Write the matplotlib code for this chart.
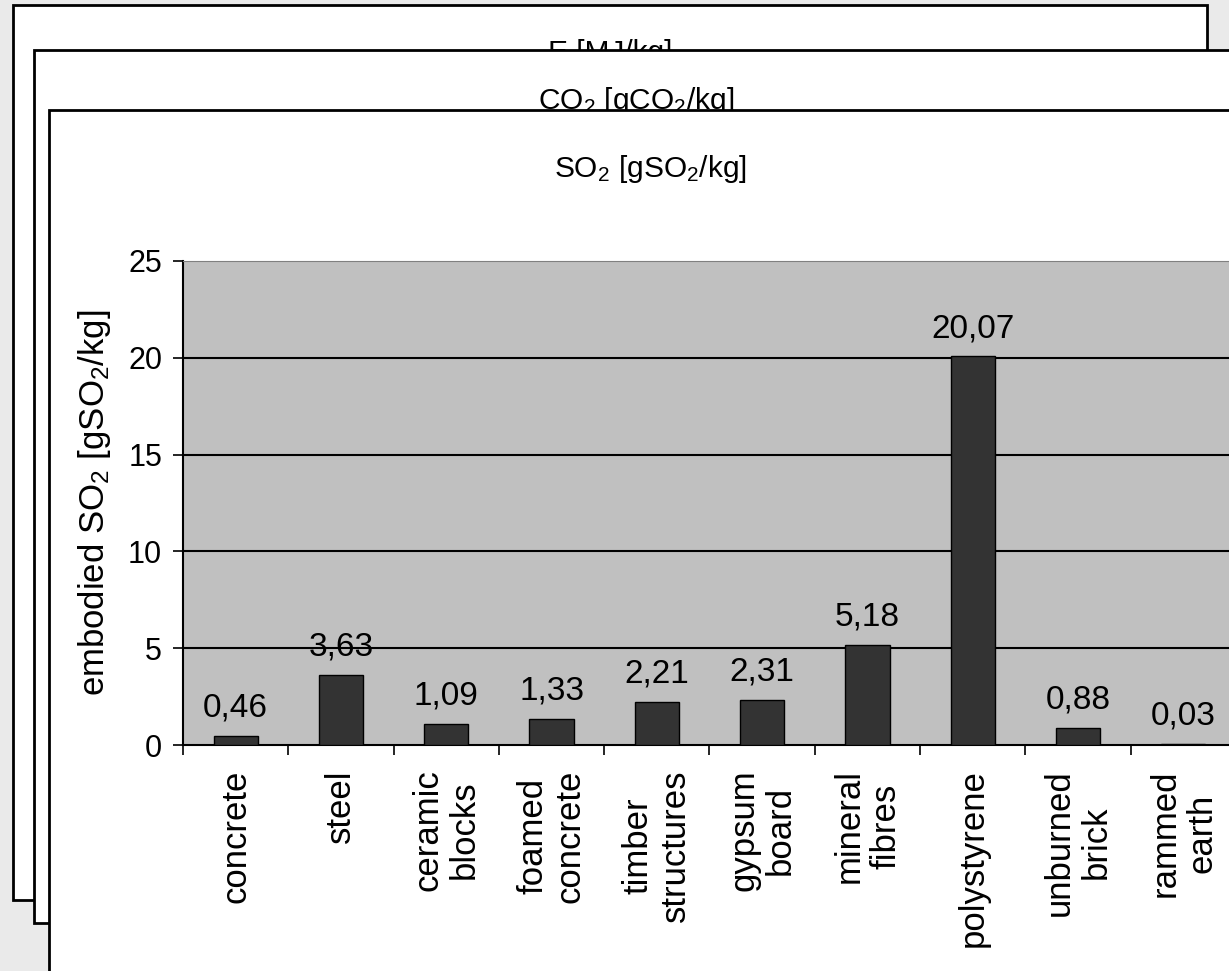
import numpy as np
import matplotlib
matplotlib.use('Agg')
import matplotlib.pyplot as plt
from matplotlib.patches import Rectangle

# Embodied SO2 of building materials
materials = ['concrete', 'steel', 'ceramic\nblocks', 'foamed\nconcrete', 'timber\nstructures',
             'gypsum\nboard', 'mineral\nfibres', 'polystyrene', 'unburned\nbrick', 'rammed\nearth']
so2_values = [0.46, 3.63, 1.09, 1.33, 2.21, 2.31, 5.18, 20.07, 0.88, 0.03]
y_ticks = [0, 5, 10, 15, 20, 25]

plt.rcParams['font.family'] = 'Liberation Sans'
plt.rcParams['mathtext.fontset'] = 'custom'
plt.rcParams['mathtext.rm'] = 'Liberation Sans'
plt.rcParams['mathtext.it'] = 'Liberation Sans:italic'
plt.rcParams['mathtext.default'] = 'regular'

W, H = 1229, 971
fig = plt.figure(figsize=(W / 100, H / 100), dpi=100, facecolor='#eaeaea')


def px_rect(x0, y0, x1, y1, z):
    # rectangle given in pixel coordinates (origin top-left)
    r = Rectangle((x0 / W, 1 - y1 / H), (x1 - x0) / W, (y1 - y0) / H,
                  transform=fig.transFigure, facecolor='white', edgecolor='black',
                  linewidth=2, zorder=z)
    fig.patches.append(r)


# stacked chart sheets, back to front
px_rect(13, 5, 1207, 900, 1)
fig.text(610 / W, 1 - 61 / H, 'E [MJ/kg]', ha='center', va='baseline', fontsize=21.5, zorder=2)
px_rect(34, 50, 1300, 923, 3)
fig.text(636 / W, 1 - 109 / H, r'CO$_2$ [gCO$_2$/kg]', ha='center', va='baseline', fontsize=21.5, zorder=4)
px_rect(49, 110, 1300, 1000, 5)
fig.text(650 / W, 1 - 177 / H, r'SO$_2$ [gSO$_2$/kg]', ha='center', va='baseline', fontsize=21.5, zorder=6)

ax = fig.add_axes([183 / W, (H - 745) / H, 1053 / W, 484 / H], zorder=10)
ax.set_facecolor('#c0c0c0')

x = np.arange(len(materials))
ax.bar(x, so2_values, width=0.42, color='#333333', edgecolor='black', linewidth=1, zorder=3)

for xi, v in zip(x, so2_values):
    ax.annotate(f'{v:.2f}'.replace('.', ','), (xi, v), xytext=(0, 14), textcoords='offset points',
                ha='center', va='baseline', fontsize=24)

ax.set_xlim(-0.5, len(materials) - 0.5)
ax.set_ylim(0, 25)
ax.set_yticks(y_ticks)
ax.set_yticklabels([str(t) for t in y_ticks], fontsize=22)
ax.tick_params(axis='y', length=7, width=1.2, pad=8)

# ticks between categories, labels centered under each bar
ax.set_xticks(np.arange(len(materials) + 1) - 0.5)
ax.set_xticklabels([])
ax.tick_params(axis='x', length=7, width=1.2)
for xi, name in zip(x, materials):
    ax.annotate(name, (xi, 0), xycoords=('data', 'axes fraction'), xytext=(0, -17.5),
                textcoords='offset points', rotation=90, ha='center', va='top',
                multialignment='center', linespacing=1.15, fontsize=25, annotation_clip=False)

for t in y_ticks[1:-1]:
    ax.axhline(t, color='black', linewidth=1.5, zorder=2)

ax.spines['left'].set_linewidth(1.5)
ax.spines['bottom'].set_linewidth(1.5)
ax.spines['top'].set_color('#808080')
ax.spines['right'].set_color('#808080')

fig.text(95 / W, 1 - 503 / H, r'embodied SO$_2$ [gSO$_2$/kg]', rotation=90,
         ha='center', va='center', fontsize=25, zorder=11)

fig.savefig('out.png', dpi=100, facecolor=fig.get_facecolor())
